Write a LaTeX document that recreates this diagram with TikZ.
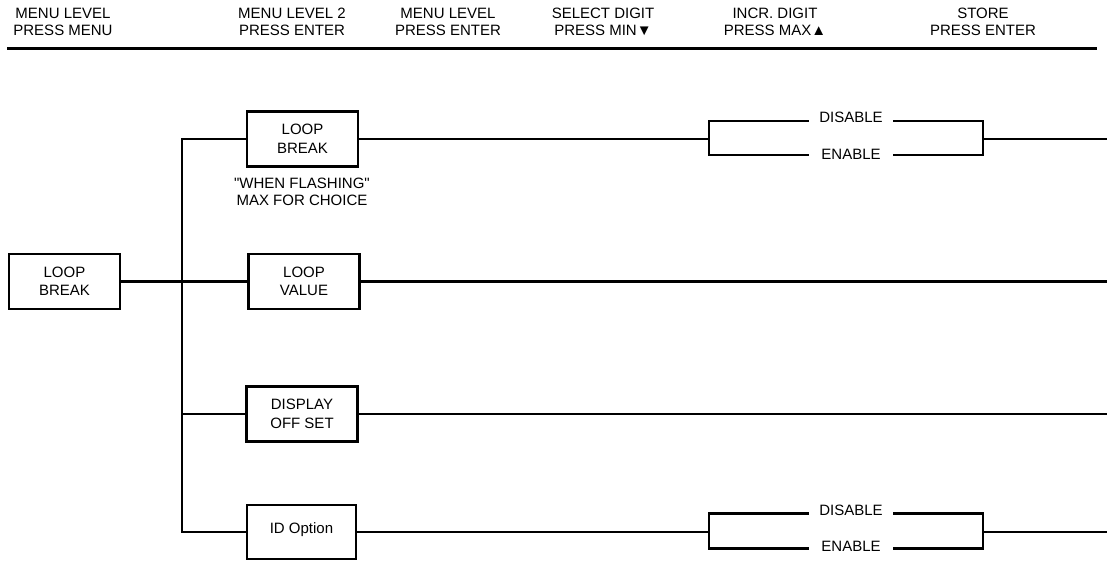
\documentclass[tikz,border=0pt]{standalone}
\usepackage{fontspec}
\setmainfont{Liberation Sans}[Ligatures=TeXOff]
\begin{document}
\begin{tikzpicture}[x=1pt,y=-1pt,
  txt/.style={font=\fontsize{15}{17}\selectfont, align=center, inner sep=0pt},
  box/.style={draw, line width=2.2pt, minimum width=111pt, minimum height=55pt, inner sep=0pt, align=center, font=\fontsize{15}{18.5}\selectfont},
  wire/.style={line width=2.2pt, line cap=rect},
  opt/.style={font=\fontsize{15}{17}\selectfont, minimum width=86pt, inner sep=0pt},
]
\useasboundingbox (0,0) rectangle (1107,560);
% header
\node[txt] (h1) at (63,22) {MENU LEVEL\\PRESS MENU};
\node[txt] (h2) at (292,22) {MENU LEVEL 2\\PRESS ENTER};
\node[txt] (h3) at (448,22) {MENU LEVEL\\PRESS ENTER};
\node[txt] (h4) at (603,22) {SELECT DIGIT\\PRESS MIN▼};
\node[txt] (h5) at (775,22) {INCR. DIGIT\\PRESS MAX▲};
\node[txt] (h6) at (983,22) {STORE\\PRESS ENTER};
\coordinate (rl) at (7,48.5);
\coordinate (rr) at (1097,48.5);
\draw[line width=3.4pt] (rl) -- (rr);
% boxes
\node[box] (b0) at (64.5,281.5) {LOOP\\BREAK};
\node[box] (b1) at (302.5,139) {LOOP\\BREAK};
\node[txt] (note) at (302,191.5) {"WHEN FLASHING"\\MAX FOR CHOICE};
\node[box] (b2) at (304,281.5) {LOOP\\VALUE};
\node[box] (b3) at (302,414) {DISPLAY\\OFF SET};
\node[box, minimum width=109pt, minimum height=54pt] (b4) at (301.5,532) {\raisebox{7pt}{ID Option}};
% trunk
\coordinate (jt) at (182,139);
\coordinate (jm) at (182,281.5);
\coordinate (j3) at (182,414);
\coordinate (jb) at (182,532);
\draw[wire] (b0.east) -- (jm);
\draw[wire] (b1.west) -- (jt) -- (jb) -- (b4.west);
\draw[wire] (jm) -- (b2.west);
\draw[wire] (j3) -- (b3.west);
% plain outputs
\coordinate (e2) at (1107,281.5);
\coordinate (e3) at (1107,414);
\draw[wire] (b2.east) -- (e2);
\draw[wire] (b3.east) -- (e3);
% top bracket
\coordinate (l1) at (709,139);
\coordinate (r1) at (983,139);
\coordinate (e1) at (1107,139);
\node[opt] (d1) at (851,117) {DISABLE};
\node[opt] (n1) at (851,154) {ENABLE};
\draw[wire] (b1.east) -- (l1);
\draw[wire] ([yshift=-4pt]d1.west) -| (l1) |- ([yshift=-1pt]n1.west);
\draw[wire] ([yshift=-4pt]d1.east) -| (r1) |- ([yshift=-1pt]n1.east);
\draw[wire] (r1) -- (e1);
% bottom bracket
\coordinate (l4) at (709,532);
\coordinate (r4) at (983,532);
\coordinate (e4) at (1107,532);
\node[opt] (d4) at (851,510.5) {DISABLE};
\node[opt] (n4) at (851,546.5) {ENABLE};
\draw[wire] (b4.east) -- (l4);
\draw[wire] ([yshift=-3pt]d4.west) -| (l4) |- ([yshift=-2pt]n4.west);
\draw[wire] ([yshift=-3pt]d4.east) -| (r4) |- ([yshift=-2pt]n4.east);
\draw[wire] (r4) -- (e4);
\end{tikzpicture}
\end{document}
